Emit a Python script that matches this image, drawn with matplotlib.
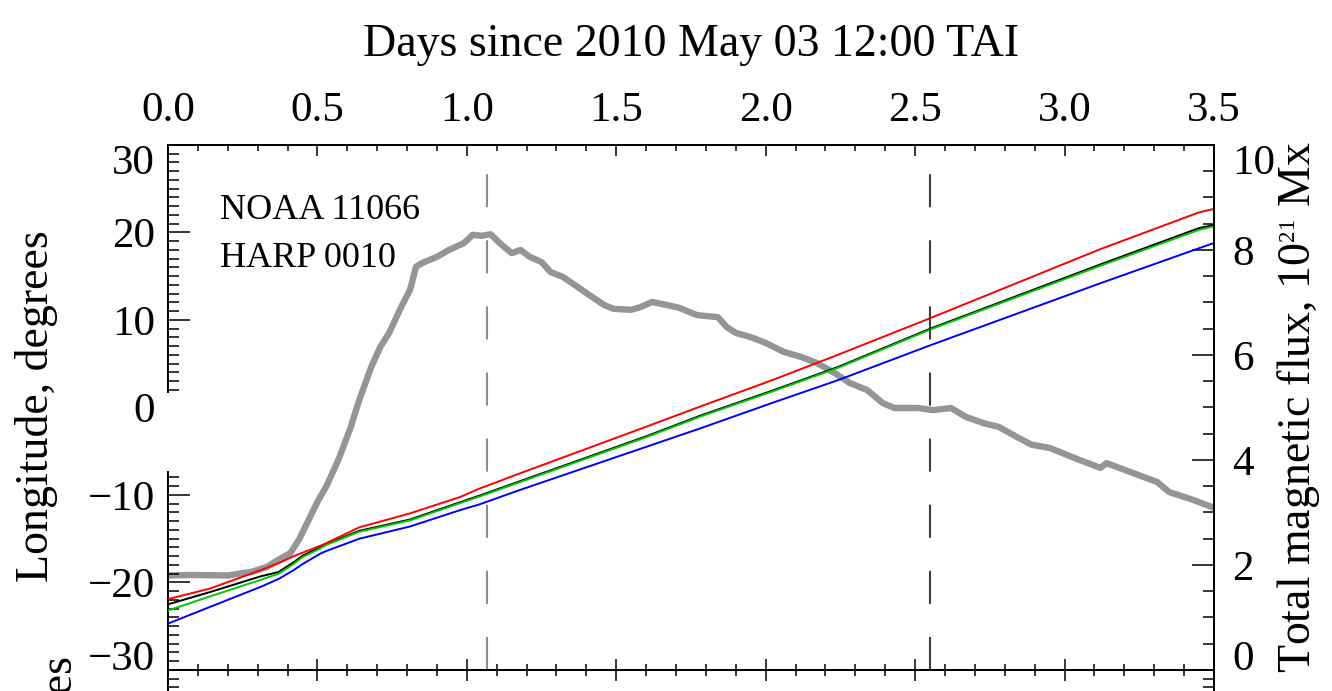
import matplotlib
matplotlib.use("Agg")
import matplotlib.pyplot as plt
import matplotlib._mathtext as _mathtext
from matplotlib.ticker import FixedLocator, MultipleLocator

plt.rcParams['font.family'] = ['Liberation Serif', 'DejaVu Serif']
plt.rcParams['mathtext.fontset'] = 'custom'
plt.rcParams['mathtext.rm'] = 'Liberation Serif'
plt.rcParams['mathtext.it'] = 'Liberation Serif:italic'
plt.rcParams['lines.scale_dashes'] = False
# smaller superscripts for the exponent in the flux unit
_mathtext.SHRINK_FACTOR = 0.5

# ---- data -------------------------------------------------------------
flux_days = [0.0, 0.08, 0.2, 0.28, 0.33, 0.37, 0.41, 0.44, 0.47, 0.5, 0.53,
             0.57, 0.61, 0.64, 0.68, 0.71, 0.74, 0.78, 0.81, 0.83, 0.85, 0.9,
             0.94, 0.99, 1.02, 1.05, 1.08, 1.11, 1.15, 1.18, 1.21, 1.25, 1.28,
             1.32, 1.37, 1.41, 1.46, 1.49, 1.55, 1.58, 1.62, 1.67, 1.71, 1.77,
             1.84, 1.87, 1.9, 1.95, 2.0, 2.06, 2.12, 2.17, 2.23, 2.28, 2.34,
             2.39, 2.43, 2.51, 2.56, 2.62, 2.67, 2.73, 2.78, 2.84, 2.89, 2.95,
             3.05, 3.12, 3.14, 3.23, 3.31, 3.35, 3.43, 3.5]
flux = [1.8, 1.81, 1.8, 1.87, 1.96, 2.1, 2.23, 2.5, 2.85, 3.2, 3.5,
        4.0, 4.6, 5.14, 5.77, 6.15, 6.42, 6.91, 7.24, 7.68, 7.75, 7.87,
        8.0, 8.13, 8.29, 8.27, 8.3, 8.13, 7.94, 8.0, 7.87, 7.77, 7.58,
        7.49, 7.3, 7.14, 6.95, 6.88, 6.86, 6.91, 7.01, 6.95, 6.9, 6.76,
        6.72, 6.53, 6.42, 6.34, 6.23, 6.06, 5.96, 5.85, 5.66, 5.47, 5.33,
        5.09, 4.99, 4.99, 4.95, 4.99, 4.82, 4.70, 4.63, 4.44, 4.29, 4.23,
        4.0, 3.85, 3.94, 3.75, 3.58, 3.39, 3.24, 3.09]

lon_days = [0.0, 0.14, 0.31, 0.37, 0.42, 0.45, 0.51, 0.53, 0.64, 0.81, 0.98,
            1.04, 1.18, 1.60, 1.78, 2.02, 2.24, 2.55, 3.12, 3.45, 3.50]
lon_red = [-21.9, -20.7, -18.6, -17.8, -17.0, -16.6, -15.8, -15.5, -13.7,
           -12.1, -10.2, -9.3, -7.5, -2.2, 0.1, 3.1, 6.0, 10.2, 18.1, 22.3, 22.7]
lon_black = [-22.5, -21.1, -19.3, -18.8, -17.7, -16.95, -15.95, -15.6, -14.1,
             -12.8, -10.8, -10.1, -8.4, -3.3, -0.95, 1.9, 4.6, 9.0, 16.35,
             20.5, 20.85]
lon_green = [-23.2, -21.6, -19.7, -19.0, -17.9, -17.1, -16.1, -15.7, -14.2,
             -12.9, -10.9, -10.2, -8.5, -3.4, -1.05, 1.8, 4.5, 8.9, 16.2,
             20.3, 20.7]
lon_blue = [-24.7, -22.8, -20.5, -19.6, -18.6, -17.9, -16.7, -16.4, -15.0,
            -13.6, -11.7, -11.1, -9.4, -4.5, -2.4, 0.5, 3.1, 7.1, 14.2,
            18.2, 18.8]

event_days = [1.067, 2.549]
event_colors = ['#8c8c8c', '#3c3c3c']

x_major = [0.0, 0.5, 1.0, 1.5, 2.0, 2.5, 3.0, 3.5]
x_labels = ['0.0', '0.5', '1.0', '1.5', '2.0', '2.5', '3.0', '3.5']
lon_major = [-30, -20, -10, 0, 10, 20, 30]
flux_major = [0, 2, 4, 6, 8, 10]

# ---- figure -----------------------------------------------------------
fig = plt.figure(figsize=(13.32, 6.91), dpi=100)
L, B, W, H = 0.1261, 0.0304, 0.7853, 0.7598
ax = fig.add_axes([L, B, W, H])
axr = ax.twinx()
ax.set_zorder(axr.get_zorder() + 1)
ax.patch.set_visible(False)

ax.set_xlim(0, 3.5)
ax.set_ylim(-30, 30)
axr.set_ylim(0, 10)

TS = 31   # tick label size
LS = 33   # axis label size

# flux curve (right axis)
axr.plot(flux_days, flux, color='#959595', lw=4.6, solid_joinstyle='round')

# longitude curves (left axis)
ax.plot(lon_days, lon_black, color='black', lw=1.4)
ax.plot(lon_days, lon_green, color='#00c800', lw=1.4)
ax.plot(lon_days, lon_red, color='#ff0000', lw=1.4)
ax.plot(lon_days, lon_blue, color='#0000ff', lw=1.4)

for d, c in zip(event_days, event_colors):
    ax.axvline(d, color=c, lw=1.5, linestyle=(0, (23.8, 23.8)))

# x axis: ticks top and bottom, labels on top
ax.xaxis.set_major_locator(FixedLocator(x_major))
ax.set_xticklabels(x_labels)
ax.xaxis.set_minor_locator(MultipleLocator(0.1))
ax.tick_params(axis='x', which='both', direction='in', top=True, bottom=True,
               labeltop=True, labelbottom=False, labelsize=TS, pad=11)
ax.tick_params(axis='x', which='major', length=8, width=1.1)
ax.tick_params(axis='x', which='minor', length=4.3, width=1.1)
ax.xaxis.set_label_position('top')
ax.set_xlabel('Days since 2010 May 03 12:00 TAI', fontsize=LS, labelpad=25)

# left axis, with a break in the spine
ax.yaxis.set_major_locator(FixedLocator(lon_major))
ax.yaxis.set_minor_locator(FixedLocator(
    [v for v in range(-29, 30) if v % 10 != 0 and not (-7 <= v <= 1)]))
ax.tick_params(axis='y', which='both', direction='in', left=True, right=False,
               labelsize=TS, pad=9.5)
ax.tick_params(axis='y', which='major', length=15.8, width=1.1)
ax.tick_params(axis='y', which='minor', length=8, width=1.1)
ax.spines['left'].set_bounds(1.8, 30)
axr.spines['left'].set_bounds(0, 3.77)
ax.set_ylabel('Longitude, degrees', fontsize=LS)
ax.yaxis.set_label_coords(-0.1052, 0.502)

# right axis
axr.yaxis.set_major_locator(FixedLocator(flux_major))
axr.yaxis.set_minor_locator(MultipleLocator(0.5))
axr.tick_params(axis='y', which='both', direction='in', labelsize=TS, pad=13)
axr.tick_params(axis='y', which='major', length=15.8, width=1.1)
axr.tick_params(axis='y', which='minor', length=8, width=1.1)
axr.set_ylabel(r'Total magnetic flux, 10$^{21}$ Mx', fontsize=LS)
axr.yaxis.set_label_coords(1.058, 0.5)

for a in (ax, axr):
    for s in a.spines.values():
        s.set_linewidth(1.4)

# end labels sit inside the axis range
lt = ax.yaxis.get_major_ticks(len(lon_major))
lt[0].label1.set_verticalalignment('baseline')
lt[-1].label1.set_verticalalignment('top')
lt[3].tick1line.set_visible(False)
rt = axr.yaxis.get_major_ticks(len(flux_major))
rt[0].label2.set_verticalalignment('baseline')
rt[-1].label2.set_verticalalignment('top')

ax.text(0.0497, 0.859, 'NOAA 11066', transform=ax.transAxes, fontsize=26,
        va='baseline')
ax.text(0.0497, 0.7676, 'HARP 0010', transform=ax.transAxes, fontsize=26,
        va='baseline')

# next panel below (latitude)
ax2 = fig.add_axes([L, B - H, W, H])
ax2.set_xlim(0, 3.5)
ax2.set_ylim(-30, 30)
ax2.xaxis.set_major_locator(FixedLocator(x_major))
ax2.xaxis.set_minor_locator(MultipleLocator(0.1))
ax2.yaxis.set_major_locator(MultipleLocator(10))
ax2.yaxis.set_minor_locator(MultipleLocator(1))
ax2.tick_params(axis='both', which='both', direction='in', top=True,
                bottom=False, left=True, right=True, labelleft=False,
                labelbottom=False, width=1.1)
ax2.tick_params(axis='x', which='major', length=8)
ax2.tick_params(axis='x', which='minor', length=4.3)
ax2.tick_params(axis='y', which='major', length=15.8)
ax2.tick_params(axis='y', which='minor', length=8)
for s in ax2.spines.values():
    s.set_linewidth(1.4)
ax2.set_ylabel('Latitude, degrees', fontsize=LS)
ax2.yaxis.set_label_coords(-0.0822, 0.7248)

fig.savefig('out.png', dpi=100, facecolor='white')
